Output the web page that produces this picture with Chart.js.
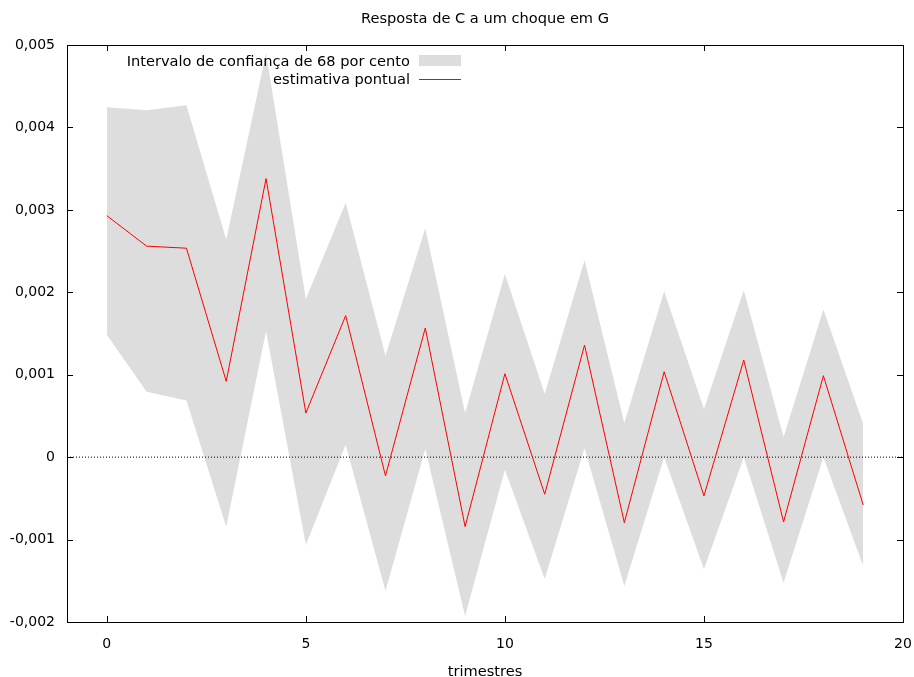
<!DOCTYPE html>
<html>
<head>
<meta charset="utf-8">
<script src="https://cdn.jsdelivr.net/npm/chart.js@4/dist/chart.umd.min.js"></script>
<style>
html,body{margin:0;padding:0;background:#fff;}
#wrap{width:914px;height:677px;position:relative;}
</style>
</head>
<body>
<div id="wrap"><canvas id="c" width="914" height="677"></canvas></div>
<script>
const periods = [0,1,2,3,4,5,6,7,8,9,10,11,12,13,14,15,16,17,18,19];
const pointEstimate = [0.00293,0.00256,0.002535,0.00092,0.00338,0.000535,0.001717,-0.000227,0.001567,-0.000843,0.001012,-0.00045,0.00136,-0.000794,0.001036,-0.00047,0.001178,-0.000786,0.000988,-0.00058];
const bandUpper = [0.004244,0.00421,0.00427,0.00264,0.0049,0.00192,0.003086,0.001231,0.002778,0.000535,0.002223,0.000769,0.002389,0.000413,0.002012,0.000583,0.002024,0.000243,0.00179,0.000405];
const bandLower = [0.001486,0.000793,0.000688,-0.000843,0.001526,-0.001066,0.000149,-0.001625,0.0001,-0.001928,-0.000154,-0.001479,0.000109,-0.001564,0.0,-0.001361,0.0,-0.001523,0.0,-0.00132];
const xTicks = [0,5,10,15,20];
const yTicks = [-0.002,-0.001,0,0.001,0.002,0.003,0.004,0.005];
const titleText = 'Resposta de C a um choque em G';
const xTitle = 'trimestres';
const bandLabel = 'Intervalo de confiança de 68 por cento';
const lineLabel = 'estimativa pontual';

const FONT = 'DejaVu Sans';
const toXY = (ys) => ys.map((v,i)=>({x:periods[i], y:v}));

const framePlugin = {
  id:'frame',
  afterDatasetsDraw(chart){
    const {ctx, chartArea:a, scales:{x, y}} = chart;
    ctx.save();
    ctx.strokeStyle = '#000';
    ctx.lineWidth = 1;
    const L = 6;
    ctx.beginPath();
    xTicks.forEach(t=>{
      const px = Math.round(x.getPixelForValue(t))+0.5;
      ctx.moveTo(px, a.bottom); ctx.lineTo(px, a.bottom-L);
      ctx.moveTo(px, a.top); ctx.lineTo(px, a.top+L);
    });
    yTicks.forEach(t=>{
      const py = Math.round(y.getPixelForValue(t))+0.5;
      ctx.moveTo(a.left, py); ctx.lineTo(a.left+L, py);
      ctx.moveTo(a.right, py); ctx.lineTo(a.right-L, py);
    });
    ctx.stroke();
    ctx.strokeRect(Math.round(a.left)+0.5, Math.round(a.top)+0.5, Math.round(a.right-a.left), Math.round(a.bottom-a.top));
    // legend
    ctx.font = '14.6px "' + FONT + '"';
    ctx.fillStyle = '#000';
    ctx.textAlign = 'right';
    ctx.textBaseline = 'middle';
    const tx = 410, sx0 = 419, sx1 = 461;
    ctx.fillText(chart.data.datasets[1].label, tx, 62);
    ctx.fillText(chart.data.datasets[2].label, tx, 80);
    ctx.fillStyle = chart.data.datasets[1].backgroundColor;
    ctx.fillRect(sx0, 55, sx1-sx0, 11);
    ctx.strokeStyle = chart.data.datasets[2].borderColor;
    ctx.beginPath(); ctx.moveTo(sx0, 79.5); ctx.lineTo(sx1, 79.5); ctx.stroke();
    ctx.restore();
  }
};

new Chart(document.getElementById('c'), {
  type:'line',
  data:{
    datasets:[
      {label:'lower', data:toXY(bandLower), borderWidth:0, pointRadius:0, fill:false, order:3},
      {label:bandLabel, data:toXY(bandUpper), borderWidth:0, pointRadius:0, backgroundColor:'#dddddd', fill:'-1', order:2},
      {label:lineLabel, data:toXY(pointEstimate), borderColor:'#ff0000', borderWidth:1, pointRadius:0, fill:false, order:0},
      {label:'zero', data:[{x:-1,y:0},{x:20,y:0}], borderColor:'#000', borderWidth:1, borderDash:[1,2], pointRadius:0, fill:false, order:1}
    ]
  },
  options:{
    responsive:false,
    animation:false,
    events:[],
    layout:{padding:{left:0,right:11,top:0,bottom:0}},
    plugins:{
      legend:{display:false},
      tooltip:{enabled:false},
      title:{display:true, fullSize:false, text:titleText, color:'#000', font:{family:FONT, size:14.6, weight:'normal'}, padding:{top:10,bottom:17.5}}
    },
    scales:{
      x:{type:'linear', min:-1, max:20,
        afterBuildTicks:(s)=>{s.ticks = xTicks.map(v=>({value:v}));},
        afterFit:(s)=>{s.height = 55; s.paddingLeft = 0; s.paddingRight = 0;},
        grid:{display:false, drawTicks:false},
        border:{display:false},
        ticks:{color:'#000', padding:14, font:{family:FONT, size:14}, maxRotation:0, callback:(v)=>String(v)},
        title:{display:true, text:xTitle, color:'#000', font:{family:FONT, size:14.6}, padding:{top:0,bottom:-4}}
      },
      y:{type:'linear', min:-0.002, max:0.005,
        afterBuildTicks:(s)=>{s.ticks = yTicks.map(v=>({value:v}));},
        afterFit:(s)=>{s.width = 67; s.paddingTop = 0; s.paddingBottom = 0;},
        grid:{display:false, drawTicks:false},
        border:{display:false},
        ticks:{color:'#000', padding:12, font:{family:FONT, size:14}, callback:(v)=> Math.abs(v)<1e-12 ? '0' : v.toFixed(3).replace('.',',')}
      }
    }
  },
  plugins:[framePlugin]
});
</script>
</body>
</html>
